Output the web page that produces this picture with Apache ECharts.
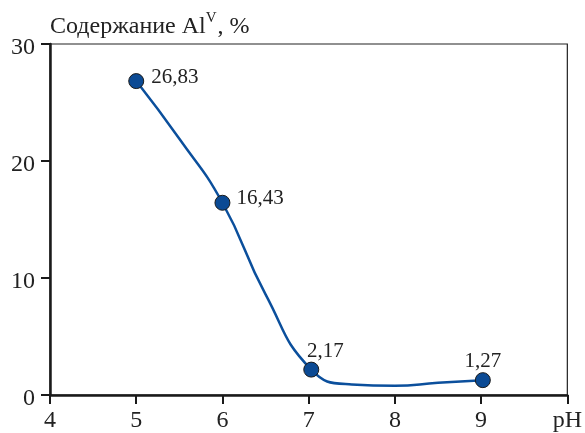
<!DOCTYPE html>
<html>
<head>
<meta charset="utf-8">
<script src="https://cdn.jsdelivr.net/npm/echarts@6/dist/echarts.min.js"></script>
<style>
  html, body { margin: 0; padding: 0; background: #fff; }
  #chart { width: 585px; height: 433px; }
</style>
</head>
<body>
<div id="chart"></div>
<script>
// измеренные точки
var phPoints = [5, 6, 7.03, 9.02];
var alValues = [26.83, 16.43, 2.17, 1.27];

// кривая
var curveX = [5, 5.5, 6, 6.5, 7.03, 7.5, 8, 8.5, 9.02];
var curveY = [26.83, 21.9, 16.43, 8.6, 2.17, 0.9, 0.78, 1.04, 1.27];

var xTicks = [4, 5, 6, 7, 8, 9, 10];

var chart = echarts.init(document.getElementById("chart"));
var font = "'Liberation Serif', 'DejaVu Serif', serif";

// подписи точек: где и со сдвигом
var labelOpts = [
  { position: "right", offset: [2, -4] },
  { position: "right", offset: [1, -4] },
  { position: "top", offset: [14, 5] },
  { position: "top", offset: [0, 5] }
];

var option = {
  animation: false,
  grid: {
    left: 50, right: 14, top: 44, bottom: 34,
    show: true, borderColor: "#222", borderWidth: 1.2
  },
  xAxis: {
    type: "value",
    min: 4, max: 10, interval: 1,
    splitLine: { show: false },
    axisLine: { lineStyle: { color: "#1a1a1a", width: 2.5 } },
    axisTick: { length: 9, lineStyle: { color: "#1a1a1a", width: 2 } },
    axisLabel: {
      color: "#222", fontSize: 24, fontFamily: font, margin: 14,
      formatter: function (v) { return v === xTicks[xTicks.length - 1] ? "pH" : String(v); }
    }
  },
  yAxis: {
    type: "value",
    min: 0, max: 30, interval: 10,
    name: "{n|Содержание Al}{s|V}{n|, %}",
    nameLocation: "end",
    nameGap: 2,
    nameTextStyle: {
      align: "left",
      rich: {
        n: { fontSize: 24, fontFamily: font, color: "#222" },
        s: { fontSize: 15, fontFamily: font, color: "#222", padding: [0, 1, 16, 0] }
      }
    },
    splitLine: { show: false },
    axisLine: { lineStyle: { color: "#1a1a1a", width: 2.5 } },
    axisTick: { length: 9, lineStyle: { color: "#1a1a1a", width: 2 } },
    axisLabel: {
      margin: 15,
      formatter: function (v) { return "{t|" + v + "}"; },
      rich: {
        t: { color: "#222", fontSize: 24, fontFamily: font, padding: [7, 0, 0, 0] }
      }
    }
  },
  series: [
    {
      type: "line",
      smooth: 0.5,
      showSymbol: false,
      data: curveX.map(function (x, i) { return [x, curveY[i]]; }),
      lineStyle: { color: "#0b4f9c", width: 2.5 },
      z: 2
    },
    {
      type: "scatter",
      symbolSize: 15,
      data: phPoints.map(function (x, i) {
        return { value: [x, alValues[i]], label: labelOpts[i] };
      }),
      itemStyle: { color: "#0b4a94", borderColor: "#1a1a1a", borderWidth: 1, opacity: 1 },
      label: {
        show: true,
        color: "#222",
        fontSize: 21,
        fontFamily: font,
        distance: 5,
        formatter: function (p) { return String(p.value[1]).replace(".", ","); }
      },
      z: 3
    }
  ]
};

chart.setOption(option);
</script>
</body>
</html>
